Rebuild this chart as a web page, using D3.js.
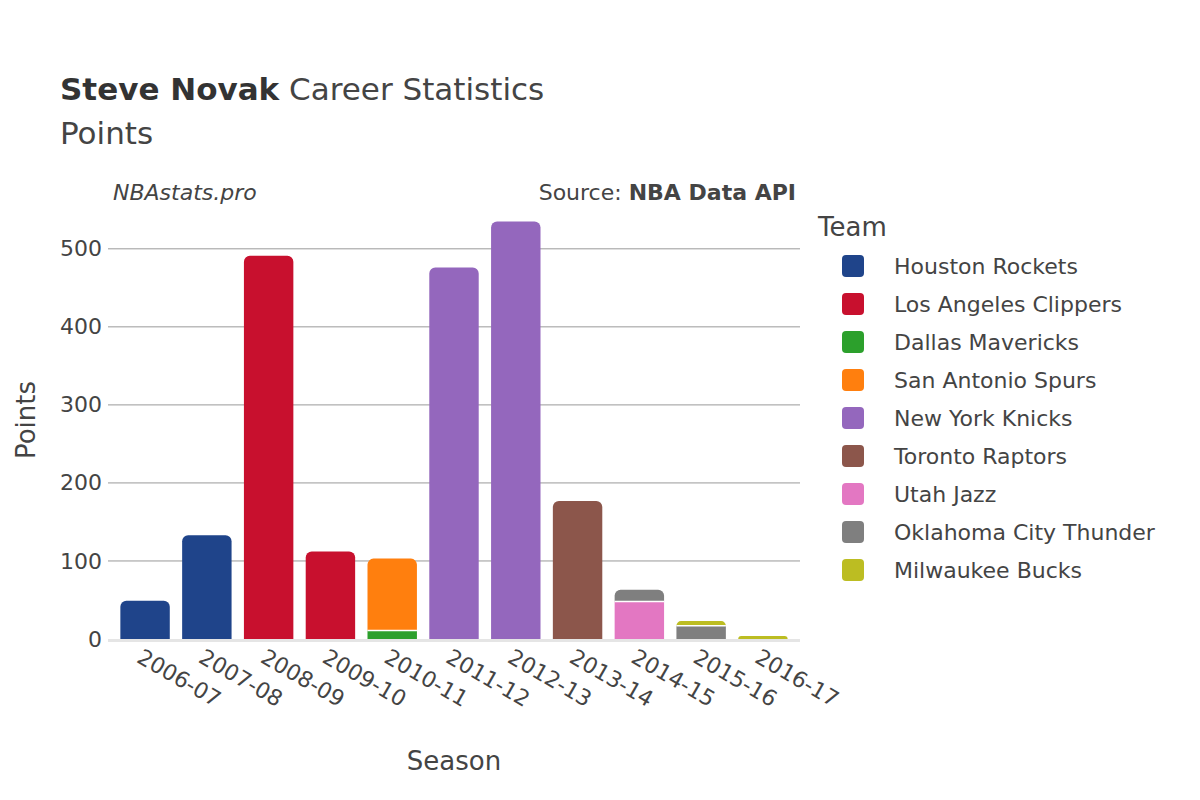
<!DOCTYPE html>
<html><head><meta charset="utf-8">
<script src="https://cdn.jsdelivr.net/npm/d3@7"></script>
<style>body{margin:0;background:#fff;} svg{font-family:"DejaVu Sans",sans-serif;}</style>
</head><body><svg id="chart"></svg>
<script>
const seasons = ['2006-07','2007-08','2008-09','2009-10','2010-11','2011-12','2012-13','2013-14','2014-15','2015-16','2016-17'];
const teams = ['Houston Rockets','Los Angeles Clippers','Dallas Mavericks','San Antonio Spurs','New York Knicks','Toronto Raptors','Utah Jazz','Oklahoma City Thunder','Milwaukee Bucks'];
const colors = ['#1f448a','#c8102e','#2ca02c','#ff7f0e','#9467bd','#8c564b','#e377c2','#7f7f7f','#bcbd22'];
// [season, team, points]
const entries = [
  ['2006-07','Houston Rockets',49],
  ['2007-08','Houston Rockets',133],
  ['2008-09','Los Angeles Clippers',491],
  ['2009-10','Los Angeles Clippers',112],
  ['2010-11','Dallas Mavericks',11],
  ['2010-11','San Antonio Spurs',92],
  ['2011-12','New York Knicks',476],
  ['2012-13','New York Knicks',535],
  ['2013-14','Toronto Raptors',177],
  ['2014-15','Utah Jazz',48],
  ['2014-15','Oklahoma City Thunder',15],
  ['2015-16','Oklahoma City Thunder',17],
  ['2015-16','Milwaukee Bucks',6],
  ['2016-17','Milwaukee Bucks',4]
];
const yTicks = [0,100,200,300,400,500];

const svg = d3.select('#chart').attr('width',1200).attr('height',800);
const x = d3.scaleBand().domain(seasons).range([108,800]).padding(0.2);
const y = d3.scaleLinear().domain([0,560]).range([639,202]);
const color = d3.scaleOrdinal().domain(teams).range(colors);

// grid
svg.append('g').selectAll('line').data(yTicks.filter(d=>d>0)).join('line')
  .attr('x1',108).attr('x2',800).attr('y1',d=>y(d)).attr('y2',d=>y(d))
  .attr('stroke','#999').attr('stroke-width',1);
svg.append('line').attr('x1',108).attr('x2',800).attr('y1',y(0)+1.5).attr('y2',y(0)+1.5)
  .attr('stroke','#e5e5e5').attr('stroke-width',3);

// bars
seasons.forEach(s => {
  const segs = entries.filter(e=>e[0]===s)
    .sort((a,b)=>teams.indexOf(a[1])-teams.indexOf(b[1]));
  let base = 0;
  segs.forEach((e,i) => {
    const x0 = x(s), w = x.bandwidth();
    const yb = y(base), yt = y(base+e[2]);
    const top = i===segs.length-1;
    const r = top ? Math.min(6, (yb-yt)) : 0;
    const p = d3.path();
    p.moveTo(x0,yb); p.lineTo(x0,yt+r);
    if (r) p.arcTo(x0,yt,x0+r,yt,r);
    p.lineTo(x0+w-r,yt);
    if (r) p.arcTo(x0+w,yt,x0+w,yt+r,r);
    p.lineTo(x0+w,yb); p.closePath();
    svg.append('path').attr('d',p.toString()).attr('fill',color(e[1]));
    if (i>0) svg.append('line').attr('x1',x0).attr('x2',x0+w).attr('y1',yb).attr('y2',yb)
      .attr('stroke','#fff').attr('stroke-width',1.5);
    base += e[2];
  });
});

// axes
const yAxis = svg.append('g').attr('transform','translate(108,0)')
  .call(d3.axisLeft(y).tickValues(yTicks).tickSize(0).tickPadding(6));
yAxis.select('.domain').remove();
yAxis.selectAll('text').attr('font-size',22).attr('fill','#444').attr('font-family','DejaVu Sans');

const xAxis = svg.append('g').attr('transform','translate(0,639)')
  .call(d3.axisBottom(x).tickSize(0));
xAxis.select('.domain').remove();
xAxis.selectAll('text').attr('font-size',22).attr('fill','#444').attr('font-family','DejaVu Sans')
  .attr('text-anchor','start').attr('dy',0)
  .attr('transform','translate(-8,20) rotate(30)');

const txt = (t,xx,yy,size,opt={}) => svg.append('text').attr('x',xx).attr('y',yy)
  .attr('font-size',size).attr('fill','#444').attr('text-anchor',opt.anchor||'start')
  .attr('font-style',opt.italic?'italic':null).text(t);

const title = svg.append('text').attr('x',60).attr('y',100).attr('font-size',31).attr('fill','#333');
title.append('tspan').attr('font-weight','bold').text('Steve Novak');
title.append('tspan').attr('fill','#444').text(' Career Statistics');
txt('Points',60,144,31);
txt('NBAstats.pro',113,200,22,{italic:true});
const src = svg.append('text').attr('x',796).attr('y',200).attr('font-size',22).attr('fill','#444').attr('text-anchor','end');
src.append('tspan').text('Source: ');
src.append('tspan').attr('font-weight','bold').text('NBA Data API');
txt('Season',454,770,26,{anchor:'middle'});
svg.append('text').attr('transform','translate(26,420) rotate(-90)').attr('text-anchor','middle')
  .attr('dy','0.35em').attr('font-size',26).attr('fill','#444').text('Points');

// legend
txt('Team',818,236,26);
const lg = svg.append('g').selectAll('g').data(teams).join('g')
  .attr('transform',(d,i)=>`translate(842,${266+i*38})`);
lg.append('rect').attr('x',0).attr('y',-11).attr('width',22).attr('height',22).attr('rx',4)
  .attr('fill',d=>color(d));
lg.append('text').attr('x',52).attr('y',8).attr('font-size',22).attr('fill','#444').text(d=>d);
</script></body></html>
